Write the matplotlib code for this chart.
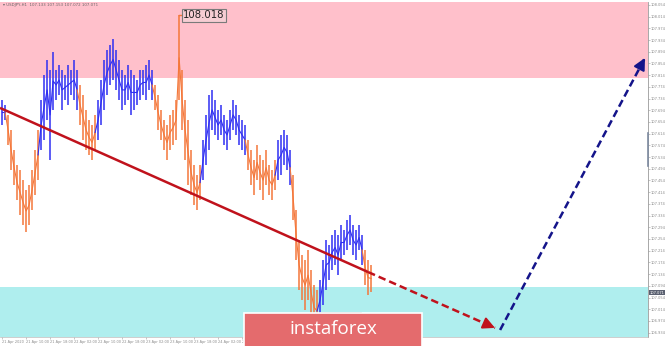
import matplotlib
matplotlib.use("Agg")
import matplotlib.pyplot as plt
from matplotlib.patches import Rectangle

# ---------------- data ----------------
symbol_header = "\u25be USDJPY,H1  107.133 107.153 107.072 107.071"

bar_high = [107.729, 107.712,
            107.678, 107.627, 107.558, 107.507, 107.490, 107.456, 107.421, 107.438, 107.490, 107.558, 107.627,
            107.729, 107.815, 107.866, 107.832, 107.893, 107.832, 107.849, 107.832, 107.815, 107.849, 107.832, 107.866, 107.832,
            107.780, 107.746, 107.695, 107.661, 107.644, 107.678,
            107.729, 107.797, 107.866, 107.900, 107.917, 107.938, 107.900, 107.866, 107.832, 107.815, 107.849, 107.832, 107.815,
            107.797, 107.832, 107.832, 107.849, 107.866, 107.832,
            107.780, 107.746, 107.695, 107.661, 107.644, 107.678, 107.695, 107.729, 108.018, 107.832, 107.729, 107.661, 107.558,
            107.507, 107.473, 107.507,
            107.592, 107.678, 107.746, 107.763, 107.729, 107.695, 107.712, 107.678, 107.661, 107.695, 107.729, 107.712, 107.678,
            107.661, 107.644,
            107.592, 107.558, 107.524, 107.575, 107.541, 107.524, 107.558, 107.507, 107.490, 107.524,
            107.592, 107.609, 107.627, 107.609, 107.558,
            107.473, 107.353, 107.250, 107.199, 107.182, 107.216, 107.148, 107.097, 107.080,
            107.114, 107.182, 107.250, 107.233, 107.268, 107.285, 107.268, 107.302, 107.285, 107.319, 107.336, 107.302, 107.285,
            107.302, 107.268,
            107.216, 107.182, 107.165]

bar_low = [107.644, 107.661,
           107.575, 107.490, 107.438, 107.387, 107.336, 107.302, 107.278, 107.302, 107.353, 107.404, 107.456,
           107.558, 107.592, 107.661, 107.524, 107.695, 107.729, 107.746, 107.695, 107.729, 107.712, 107.746, 107.729, 107.695,
           107.644, 107.592, 107.558, 107.541, 107.524, 107.558,
           107.592, 107.644, 107.695, 107.746, 107.780, 107.797, 107.763, 107.729, 107.695, 107.712, 107.729, 107.678, 107.695,
           107.712, 107.729, 107.746, 107.729, 107.763, 107.729,
           107.695, 107.627, 107.592, 107.558, 107.524, 107.558, 107.575, 107.592, 107.729, 107.627, 107.524, 107.438, 107.404,
           107.370, 107.353, 107.387,
           107.456, 107.507, 107.558, 107.627, 107.609, 107.592, 107.609, 107.575, 107.558, 107.592, 107.627, 107.609, 107.575,
           107.558, 107.541,
           107.490, 107.438, 107.404, 107.456, 107.421, 107.387, 107.438, 107.404, 107.387, 107.421,
           107.456, 107.473, 107.507, 107.490, 107.438,
           107.319, 107.182, 107.080, 107.045, 107.011, 107.045, 106.994, 106.943, 106.936,
           106.977, 107.028, 107.080, 107.114, 107.148, 107.165, 107.131, 107.182, 107.199, 107.216, 107.233, 107.199, 107.182,
           107.216, 107.165,
           107.097, 107.062, 107.073]

wave_lengths = [2, 11, 13, 6, 19, 16, 15, 10, 5, 9, 15, 3]
wave_kinds = ["up", "down", "up", "down", "up", "down", "up", "down", "up", "down", "up", "down"]

resist_zone = (107.804, 108.10)
support_zone = (106.80, 107.090)

trend_x = [-0.7, 122.0, 164.3]
trend_y = [107.702, 107.141, 106.950]
forecast_x = [166.0, 214.3]
forecast_y = [106.943, 107.873]

peak_value = 108.018
last_price = 107.071

y_tick_values = [108.054, 108.014, 107.974, 107.934, 107.894, 107.854, 107.814, 107.774, 107.734,
                 107.694, 107.654, 107.614, 107.574, 107.534, 107.494, 107.454, 107.414, 107.374,
                 107.334, 107.294, 107.254, 107.214, 107.174, 107.134, 107.094, 107.054, 107.014,
                 106.974, 106.934]
x_tick_bars = [0, 8, 16, 24, 32, 40, 48, 56, 64, 72, 80, 88]
x_tick_labels = ["21 Apr 2020", "21 Apr 10:00", "21 Apr 18:00", "22 Apr 02:00", "22 Apr 10:00",
                 "22 Apr 18:00", "23 Apr 02:00", "23 Apr 10:00", "23 Apr 18:00", "24 Apr 02:00",
                 "24 Apr 10:00", "24 Apr 18:00"]

# ---------------- style ----------------
COL = {"up": "#2f2ff2", "down": "#f4773a"}
W, H = 665, 346
YMIN, YMAX = 106.919, 108.064

fig = plt.figure(figsize=(W / 100, H / 100), dpi=100)
fig.patch.set_facecolor("white")
ax = fig.add_axes([0, 9 / H, 648 / W, 1 - 11 / H])

ax.set_xlim(-0.7, 215.3)
ax.set_ylim(YMIN, YMAX)

ax.axhspan(*resist_zone, color="#ffc0cb", zorder=0, lw=0)
ax.axhspan(*support_zone, color="#afeeee", zorder=0, lw=0)

# bars, wave by wave
start = 0
for n, kind in zip(wave_lengths, wave_kinds):
    s0 = max(start - 1, 0)
    idx = list(range(s0, start + n))
    mids = [(bar_high[i] + bar_low[i]) / 2 for i in idx]
    ax.plot(idx, mids, color=COL[kind], lw=0.8, zorder=3)
    ax.vlines(range(start, start + n), bar_low[start:start + n], bar_high[start:start + n],
              color=COL[kind], lw=1.1, zorder=3)
    start += n

# peak label
peak_i = bar_high.index(peak_value)
ax.plot([peak_i, peak_i + 1.2], [peak_value, peak_value], color=COL["down"], lw=1.0, zorder=3)
ax.text(peak_i + 1.3, peak_value, f"{peak_value:.3f}", fontsize=7.3, color="#222222",
        va="center", ha="left", zorder=5,
        bbox=dict(boxstyle="square,pad=0.12", fc="#f6cdd3", ec="#7a7a7a", lw=0.8))

# trend line (solid part then dashed continuation)
red = "#c0121c"
ax.plot(trend_x[:2], trend_y[:2], color=red, lw=1.8, zorder=4, solid_capstyle="butt")
ax.plot(trend_x[1:], trend_y[1:], color=red, lw=1.8, zorder=4, dashes=(3, 1.6))
ax.annotate("", xy=(trend_x[2], trend_y[2]),
            xytext=(trend_x[2] - (trend_x[2] - trend_x[1]) * 0.05, trend_y[2] - (trend_y[2] - trend_y[1]) * 0.05),
            arrowprops=dict(arrowstyle="-|>,head_length=0.7,head_width=0.35", color=red, lw=1.5,
                            shrinkA=0, shrinkB=0), zorder=5)

# forecast arrow
navy = "#14148a"
ax.plot(forecast_x, forecast_y, color=navy, lw=1.8, zorder=4, dashes=(3, 1.6))
ax.annotate("", xy=(forecast_x[1], forecast_y[1]),
            xytext=(forecast_x[1] - (forecast_x[1] - forecast_x[0]) * 0.03,
                    forecast_y[1] - (forecast_y[1] - forecast_y[0]) * 0.03),
            arrowprops=dict(arrowstyle="-|>,head_length=0.7,head_width=0.35", color=navy, lw=1.5,
                            shrinkA=0, shrinkB=0), zorder=5)

# axes styling
for side in ["left", "top"]:
    ax.spines[side].set_visible(False)
ax.spines["right"].set_color("#9a9a9a")
ax.spines["right"].set_linewidth(0.6)
ax.spines["bottom"].set_color("#bbbbbb")
ax.spines["bottom"].set_linewidth(0.5)
ax.yaxis.tick_right()
ax.set_yticks(y_tick_values)
ax.set_yticklabels([f"{v:.3f}" for v in y_tick_values])
ax.tick_params(axis="y", labelsize=2.6, labelcolor="#8a8a8a", length=1.2, width=0.4, color="#999999", pad=0.8)
ax.set_xticks(x_tick_bars)
ax.set_xticklabels(x_tick_labels)
ax.tick_params(axis="x", labelsize=2.5, labelcolor="#8a8a8a", length=1.2, width=0.4, color="#999999", pad=0.8)
for lab in ax.get_xticklabels():
    lab.set_horizontalalignment("left")

# last price marker on axis
ax.text(1.003, (last_price - YMIN) / (YMAX - YMIN), f"{last_price:.3f}",
        transform=ax.transAxes, fontsize=2.6, color="white", va="center", ha="left",
        bbox=dict(boxstyle="square,pad=0.2", fc="#5a6070", ec="none"), clip_on=False, zorder=6)

# scroll marker on price axis
ax.plot([1.0, 1.0], [0.51, 0.61], transform=ax.transAxes, color="#7d8aa0", lw=1.2,
        clip_on=False, zorder=6)

# header
fig.text(3 / W, 1 - 5 / H, symbol_header, fontsize=2.8, color="#666666", va="center", ha="left")

# low price box (partially hidden by logo)
fig.patches.append(Rectangle((320 / W, (H - 321) / H), 41 / W, 9 / H, transform=fig.transFigure,
                             fc="#f4fbfb", ec="#888888", lw=0.6, zorder=8))

# logo
fig.patches.append(Rectangle((244 / W, -0.01), 178 / W, (H - 313) / H + 0.01, transform=fig.transFigure,
                             fc="#e46b6d", ec="white", lw=1.2, zorder=9))
fig.text(333 / W, (H - 329) / H, "instaforex", fontsize=13.5, color="white", family="Open Sans",
         ha="center", va="center", zorder=10)

fig.savefig("out.png", dpi=100)
